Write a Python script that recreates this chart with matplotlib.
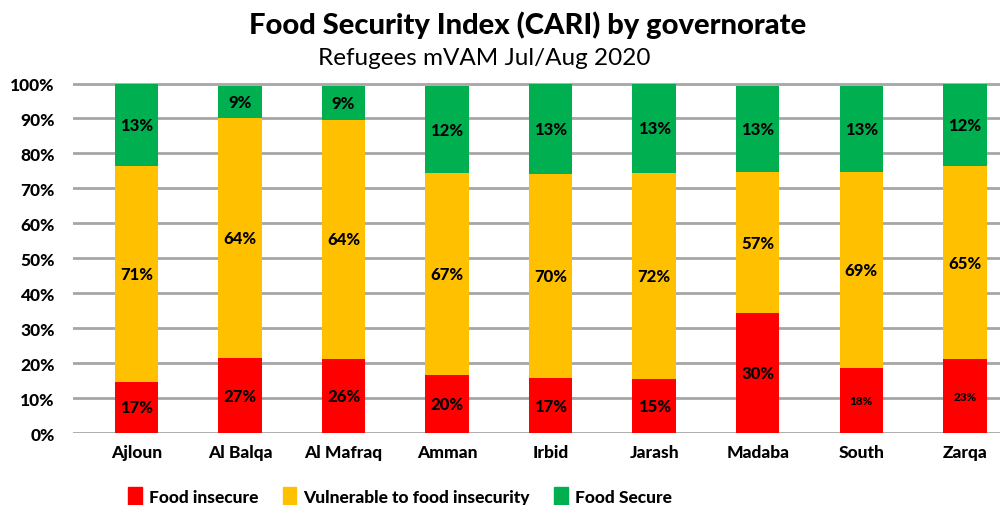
import matplotlib
matplotlib.use('Agg')
import matplotlib.pyplot as plt
import numpy as np
from matplotlib.patches import Patch

# 各省份（governorate）
governorates = ['Ajloun', 'Al Balqa', 'Al Mafraq', 'Amman', 'Irbid',
                'Jarash', 'Madaba', 'South', 'Zarqa']

# 条形高度（按图上读取，百分比）
insecure_h = [14.7, 21.4, 21.1, 16.6, 15.7, 15.4, 34.3, 18.6, 21.1]
vulnerable_h = [61.6, 68.6, 68.6, 57.7, 58.3, 58.9, 40.3, 56.0, 55.2]
secure_h = [23.7, 9.4, 9.7, 25.1, 26.0, 25.7, 24.8, 24.8, 23.7]

# 数据标签（原图文字）
insecure_lbl = ['17%', '27%', '26%', '20%', '17%', '15%', '30%', '18%', '23%']
vulnerable_lbl = ['71%', '64%', '64%', '67%', '70%', '72%', '57%', '69%', '65%']
secure_lbl = ['13%', '9%', '9%', '12%', '13%', '13%', '13%', '13%', '12%']

series_names = ['Food insecure', 'Vulnerable to food insecurity', 'Food Secure']
colors = ['#FF0000', '#FFC000', '#00B050']
yticks = list(range(0, 101, 10))

plt.rcParams['font.family'] = ['Lato', 'DejaVu Sans']

fig = plt.figure(figsize=(10, 5.06), dpi=100)
ax = fig.add_axes([0.073, 0.142, 0.927, 0.693])

x = np.arange(len(governorates))
w = 0.42
bottom = np.zeros(len(governorates))
for vals, lbls, col in zip([insecure_h, vulnerable_h, secure_h],
                           [insecure_lbl, vulnerable_lbl, secure_lbl], colors):
    vals = np.array(vals)
    ax.bar(x, vals, w, bottom=bottom, color=col, zorder=3)
    for i in range(len(x)):
        small = col == colors[0] and i >= 7
        ax.text(x[i], bottom[i] + vals[i] / 2, lbls[i], ha='center', va='center',
                fontsize=8.5 if small else 12, fontweight='black', color='black', zorder=4)
    bottom += vals

ax.set_xlim(-0.613, 8.34)
ax.set_ylim(0, 100.3)
ax.set_yticks(yticks)
ax.set_yticklabels([f'{t}%' for t in yticks], fontsize=12.5, fontweight='black')
ax.set_xticks(x)
ax.set_xticklabels(governorates, fontsize=12.5, fontweight='black')
ax.tick_params(length=0, pad=8)
ax.tick_params(axis='y', pad=13)
ax.grid(axis='y', color='#A6A6A6', linewidth=2, zorder=0)
for s in ax.spines.values():
    s.set_visible(False)

fig.text(0.528, 0.95, 'Food Security Index (CARI) by governorate',
         ha='center', va='center', fontsize=21, fontweight='black')
fig.text(0.484, 0.885, 'Refugees mVAM Jul/Aug 2020',
         ha='center', va='center', fontsize=17.5, fontweight='normal')

handles = [Patch(color=c, label=n) for c, n in zip(colors, series_names)]
fig.legend(handles=handles, loc='center', bbox_to_anchor=(0.4, 0.018),
           ncol=3, frameon=False, prop={'weight': 'black', 'size': 12.5},
           handlelength=0.8, handleheight=1.2, handletextpad=0.4, columnspacing=1.4)

fig.savefig('out.png', dpi=100)
